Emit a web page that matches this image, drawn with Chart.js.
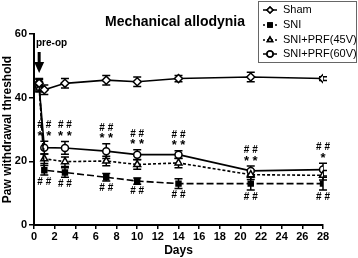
<!DOCTYPE html>
<html>
<head>
<meta charset="utf-8">
<script src="https://cdn.jsdelivr.net/npm/chart.js@4.4.1/dist/chart.umd.min.js"></script>
<style>
html, body { margin: 0; padding: 0; background: #fff; }
#wrap { width: 358px; height: 258px; }
</style>
</head>
<body>
<div id="wrap"><canvas id="chart" width="358" height="258"></canvas></div>
<script>
// days after surgery (pre-op baseline drawn at 0.5)
const days = [0.5, 1, 3, 7, 10, 14, 21, 28];
const xTicks = [0, 2, 4, 6, 8, 10, 12, 14, 16, 18, 20, 22, 24, 26, 28];
const yTicks = [0, 20, 40, 60];

const names = ['Sham', 'SNI', 'SNI+PRF(45V)', 'SNI+PRF(60V)'];
const sham = [44.5, 42.5, 44.5, 45.5, 45, 46, 46.5, 46];
const shamErr = [1.5, 1.5, 1.5, 1.5, 1.5, 1, 1.5, 0.6];
const sni = [44.5, 17.2, 16.5, 15, 13.8, 13, 13, 13];
const sniErr = [1.2, 1.5, 1.5, 1.2, 1, 1.5, 2, 2];
const prf45 = [43, 20.8, 19.9, 20.1, 19, 19.5, 15.8, 15.6];
const prf45Err = [1.2, 1.5, 1.5, 1.5, 1.5, 1.5, 1.5, 1.5];
const prf60 = [43.5, 24.3, 24.2, 23.2, 22.1, 22.1, 17, 17.4];
const prf60Err = [1.5, 2, 2, 2.3, 1.5, 1.2, 1.5, 2];

// significance marks
const topHash = ['', '# #', '# #', '# #', '# #', '# #', '# #', '# #'];
const topStar = ['', '* *', '* *', '* *', '* *', '* *', '* *', '*'];
const bottomHash = ['', '# #', '# #', '# #', '# #', '# #', '# #', '# #'];

const FONT = "'Liberation Sans', Arial, sans-serif";

function pts(vals) {
    return days.map((d, i) => ({x: d, y: vals[i]}));
}

const series = [
    {vals: sham, err: shamErr, style: 'rectRot', radius: 4, fill: '#fff', dash: []},
    {vals: sni, err: sniErr, style: 'rect', radius: 3.5, fill: '#000', dash: [7, 3]},
    {vals: prf45, err: prf45Err, style: 'triangle', radius: 4, fill: '#fff', dash: [3, 2]},
    {vals: prf60, err: prf60Err, style: 'circle', radius: 3.5, fill: '#fff', dash: []},
];

const datasets = series.map((s, i) => ({
    label: names[i],
    data: pts(s.vals),
    borderColor: '#000',
    borderWidth: 1.6,
    borderDash: s.dash,
    pointStyle: s.style,
    pointRadius: s.radius,
    pointBackgroundColor: s.fill,
    pointBorderColor: '#000',
    pointBorderWidth: 1.5,
    tension: 0,
}));

const extras = {
    id: 'extras',
    beforeDatasetsDraw(chart) {
        const ctx = chart.ctx;
        const xs = chart.scales.x, ys = chart.scales.y;
        ctx.save();
        ctx.strokeStyle = '#000';
        ctx.lineWidth = 1.5;
        series.forEach(s => {
            days.forEach((d, i) => {
                const px = xs.getPixelForValue(d);
                const top = ys.getPixelForValue(s.vals[i] + s.err[i]);
                const bot = ys.getPixelForValue(s.vals[i] - s.err[i]);
                ctx.beginPath();
                ctx.moveTo(px, top); ctx.lineTo(px, bot);
                ctx.moveTo(px - 4, top); ctx.lineTo(px + 4, top);
                ctx.moveTo(px - 4, bot); ctx.lineTo(px + 4, bot);
                ctx.stroke();
            });
        });
        ctx.restore();
    },
    afterDraw(chart) {
        const ctx = chart.ctx;
        const xs = chart.scales.x, ys = chart.scales.y;
        ctx.save();
        ctx.fillStyle = '#000';
        ctx.textAlign = 'center';
        ctx.textBaseline = 'middle';

        // title
        ctx.font = 'bold 14px ' + FONT;
        ctx.fillText('Mechanical allodynia', 175, 22);

        // significance marks
        days.forEach((d, i) => {
            const px = xs.getPixelForValue(d);
            const top = ys.getPixelForValue(prf60[i] + prf60Err[i]);
            const bot = ys.getPixelForValue(sni[i] - sniErr[i]);
            ctx.font = 'bold 13px ' + FONT;
            if (topStar[i]) ctx.fillText(topStar[i], px, top - 5);
            ctx.font = 'bold 10px ' + FONT;
            if (topHash[i]) ctx.fillText(topHash[i], px, top - 16);
            if (bottomHash[i]) ctx.fillText(bottomHash[i], px, bot + 7);
        });

        // pre-op arrow
        const ax = xs.getPixelForValue(days[0]);
        ctx.font = 'bold 10px ' + FONT;
        ctx.textAlign = 'left';
        ctx.fillText('pre-op', 36, 43);
        ctx.lineWidth = 3;
        ctx.beginPath();
        ctx.moveTo(ax, 52); ctx.lineTo(ax, 64);
        ctx.stroke();
        ctx.beginPath();
        ctx.moveTo(ax - 5, 62); ctx.lineTo(ax + 5, 62); ctx.lineTo(ax, 73);
        ctx.closePath();
        ctx.fill();

        // legend
        const lx = 258, ly = 1, lw = 98, lh = 61;
        ctx.lineWidth = 1;
        ctx.strokeStyle = '#666';
        ctx.strokeRect(lx + 0.5, ly + 0.5, lw, lh);
        ctx.strokeStyle = '#000';
        ctx.font = '11px ' + FONT;
        const rows = [10, 25, 40, 54];
        series.forEach((s, i) => {
            const y = rows[i];
            ctx.lineWidth = 1.5;
            ctx.setLineDash(s.dash.length ? [2, 2] : []);
            ctx.beginPath();
            ctx.moveTo(lx + 5, y); ctx.lineTo(lx + 19, y);
            ctx.stroke();
            ctx.setLineDash([]);
            Chart.helpers.drawPoint(ctx, {pointStyle: s.style, radius: 3, borderWidth: 1.2}, lx + 12, y);
            ctx.fillStyle = s.fill;
            ctx.fill();
            ctx.stroke();
            ctx.fillStyle = '#000';
            ctx.fillText(names[i], lx + 25, y);
        });
        ctx.restore();
    }
};

const options = {
    responsive: false,
    animation: false,
    devicePixelRatio: 1,
    layout: {padding: {top: 34, right: 35, left: 0, bottom: 0}},
    plugins: {
        legend: {display: false},
        title: {display: false},
        tooltip: {enabled: false},
    },
    scales: {
        x: {
            type: 'linear',
            min: 0,
            max: 28,
            afterBuildTicks: sc => { sc.ticks = xTicks.map(v => ({value: v})); },
            afterFit: sc => { sc.height = 33; },
            ticks: {color: '#000', padding: 1, maxRotation: 0, autoSkip: false, font: {family: FONT, size: 11, weight: 'bold'}},
            grid: {drawOnChartArea: false, drawTicks: true, tickLength: 4, color: '#000', lineWidth: 1.5},
            border: {color: '#000', width: 2},
            title: {display: true, text: 'Days', color: '#000', padding: {top: 0, bottom: 0}, font: {family: FONT, size: 12, weight: 'bold'}},
        },
        y: {
            min: 0,
            max: 60,
            afterBuildTicks: sc => { sc.ticks = yTicks.map(v => ({value: v})); },
            afterFit: sc => { sc.width = 34; },
            ticks: {color: '#000', padding: 2, font: {family: FONT, size: 11, weight: 'bold'}},
            grid: {drawOnChartArea: false, drawTicks: true, tickLength: 5, color: '#000', lineWidth: 1.5},
            border: {color: '#000', width: 2},
            title: {display: true, text: 'Paw withdrawal threshold', color: '#000', padding: {top: 0, bottom: 0}, font: {family: FONT, size: 12, weight: 'bold'}},
        }
    }
};

const ctx = document.getElementById('chart');
new Chart(ctx, {
    type: 'line',
    data: {datasets: datasets},
    options: options,
    plugins: [extras]
});
</script>
</body>
</html>
